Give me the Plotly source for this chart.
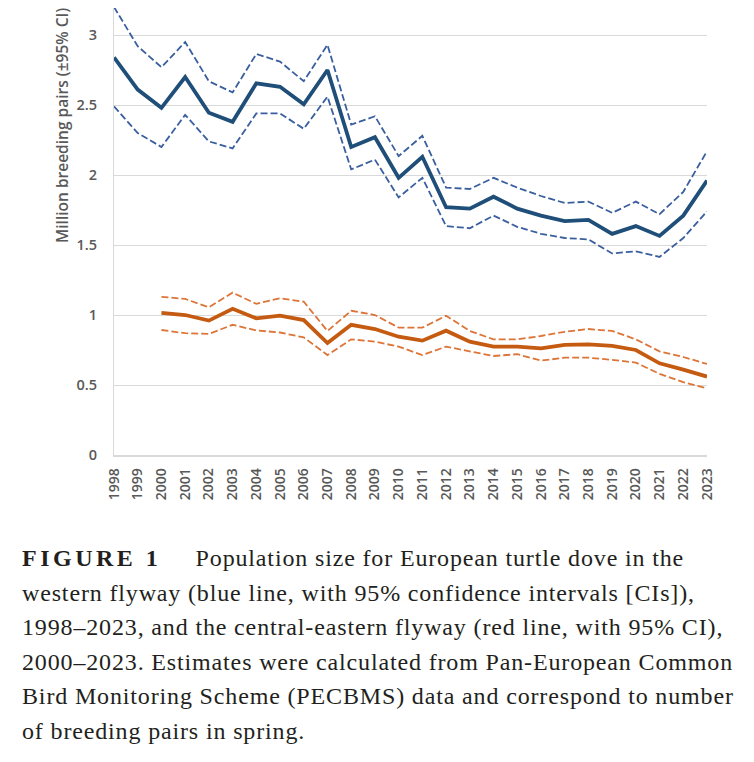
import plotly.graph_objects as go

years = [str(y) for y in range(1998, 2024)]

west_mean = [2.84, 2.61, 2.48, 2.70, 2.445, 2.38, 2.655, 2.63, 2.505, 2.75,
             2.20, 2.27, 1.98, 2.13, 1.77, 1.76, 1.845, 1.76, 1.71, 1.67,
             1.68, 1.58, 1.635, 1.565, 1.71, 1.96]
west_upper = [3.20, 2.92, 2.77, 2.95, 2.67, 2.59, 2.865, 2.81, 2.67, 2.93,
              2.36, 2.42, 2.135, 2.28, 1.91, 1.90, 1.98, 1.91, 1.85, 1.80,
              1.81, 1.73, 1.81, 1.72, 1.88, 2.17]
west_lower = [2.49, 2.30, 2.20, 2.43, 2.24, 2.19, 2.44, 2.44, 2.33, 2.56,
              2.04, 2.11, 1.84, 1.98, 1.635, 1.62, 1.71, 1.63, 1.58, 1.55,
              1.54, 1.44, 1.455, 1.415, 1.55, 1.74]

ce_years = [str(y) for y in range(2000, 2024)]
ce_mean = [1.016, 1.00, 0.96, 1.045, 0.976, 0.995, 0.964, 0.80, 0.93, 0.90,
           0.845, 0.817, 0.888, 0.81, 0.774, 0.774, 0.762, 0.786, 0.79, 0.78,
           0.75, 0.655, 0.61, 0.56]
ce_upper = [1.13, 1.115, 1.055, 1.16, 1.08, 1.12, 1.095, 0.886, 1.03, 1.00,
            0.91, 0.91, 0.995, 0.886, 0.826, 0.826, 0.85, 0.88, 0.90, 0.886,
            0.826, 0.74, 0.70, 0.65]
ce_lower = [0.893, 0.87, 0.865, 0.93, 0.89, 0.875, 0.84, 0.714, 0.826, 0.81,
            0.774, 0.714, 0.774, 0.74, 0.707, 0.72, 0.674, 0.695, 0.695, 0.68,
            0.66, 0.58, 0.52, 0.476]

y_ticks = [0, 0.5, 1, 1.5, 2, 2.5, 3]
y_tick_text = ["0", "0.5", "1", "1.5", "2", "2.5", "3"]

caption_lines = [
    "<span style='letter-spacing:3.5px'><b>FIGURE 1</b></span>     Population size for European turtle dove in the",
    "western flyway (blue line, with 95% confidence intervals [CIs]),",
    "1998–2023, and the central-eastern flyway (red line, with 95% CI),",
    "2000–2023. Estimates were calculated from Pan-European Common",
    "Bird Monitoring Scheme (PECBMS) data and correspond to number",
    "of breeding pairs in spring.",
]

BLUE = "#1F4E79"
BLUE_D = "#3A5F9F"
ORANGE = "#C55A11"
ORANGE_D = "#DD7438"
DASH = "7px,3px"

fig = go.Figure()
fig.add_trace(go.Scatter(x=years, y=west_upper, mode="lines",
                         line=dict(color=BLUE_D, width=1.8, dash=DASH), showlegend=False))
fig.add_trace(go.Scatter(x=years, y=west_lower, mode="lines",
                         line=dict(color=BLUE_D, width=1.8, dash=DASH), showlegend=False))
fig.add_trace(go.Scatter(x=years, y=west_mean, mode="lines",
                         line=dict(color=BLUE, width=3.8), showlegend=False))
fig.add_trace(go.Scatter(x=ce_years, y=ce_upper, mode="lines",
                         line=dict(color=ORANGE_D, width=1.8, dash=DASH), showlegend=False))
fig.add_trace(go.Scatter(x=ce_years, y=ce_lower, mode="lines",
                         line=dict(color=ORANGE_D, width=1.8, dash=DASH), showlegend=False))
fig.add_trace(go.Scatter(x=ce_years, y=ce_mean, mode="lines",
                         line=dict(color=ORANGE, width=3.8), showlegend=False))

# page has an 8px body margin; figure coordinates = page coordinates - 8
W, H = 746, 754
L, R, T, B = 106, 47, 0, 307
pw, ph = W - L - R, H - T - B

def px_x(x):
    return (x - L) / pw

def px_y(y):
    return (H - B - y) / ph

annotations = [dict(
    text="Million breeding pairs (±95% CI)", textangle=-90,
    x=px_x(54), y=px_y(118), xref="paper", yref="paper",
    xanchor="center", yanchor="middle", showarrow=False,
    font=dict(family="Open Sans", size=15.5, color="#595959", weight=600),
)]

for i, line in enumerate(caption_lines):
    annotations.append(dict(
        text="<span style='letter-spacing:0.85px'>" + line + "</span>",
        x=px_x(12), y=px_y(565 + 34.6 * i), xref="paper", yref="paper",
        xanchor="left", yanchor="bottom", showarrow=False,
        font=dict(family="Liberation Serif", size=24, color="#231F20"),
    ))

fig.update_layout(
    width=W, height=H,
    margin=dict(l=L, r=R, t=T, b=B),
    plot_bgcolor="white", paper_bgcolor="white",
    annotations=annotations,
    xaxis=dict(
        type="category", categoryorder="array", categoryarray=years,
        tickangle=-90, showgrid=False, showline=True, linecolor="#D9D9D9", linewidth=1.5,
        ticks="", ticklabelstandoff=6,
        tickfont=dict(family="Open Sans", size=14, color="#595959", weight=600),
        zeroline=False,
    ),
    yaxis=dict(
        range=[0, 3.193], tickvals=y_ticks, ticktext=y_tick_text,
        showgrid=True, gridcolor="#D9D9D9", gridwidth=1.3,
        showline=True, linecolor="#D9D9D9", linewidth=1.3,
        ticks="", ticklabelstandoff=13, zeroline=False,
        tickfont=dict(family="Open Sans", size=14.5, color="#595959", weight=600),
    ),
)

fig.write_html("out.html")
